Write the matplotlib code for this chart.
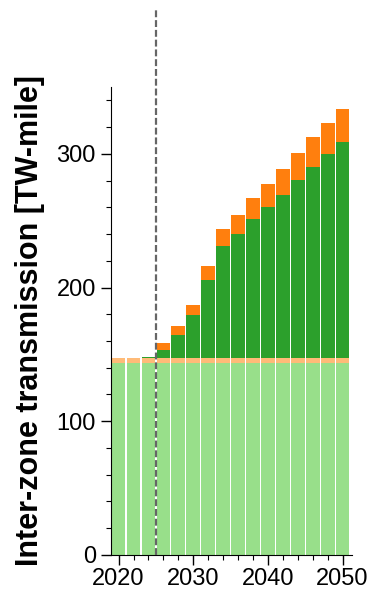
import matplotlib.pyplot as plt
import numpy as np

plt.rcParams['font.family'] = ['Liberation Sans', 'DejaVu Sans']

# 2-year model periods
years = [2020, 2022, 2024, 2026, 2028, 2030, 2032, 2034, 2036,
         2038, 2040, 2042, 2044, 2046, 2048, 2050]

# existing network, split into two parts [TW-mile]
existing_main = [143.4] * 16
existing_extra = [4.2] * 16
# new builds stacked on top
new_main = [0, 0, 0.8, 5.8, 16.8, 31.5, 58.2, 83.6, 92.6,
            103.3, 112.3, 121.8, 132.5, 142.7, 151.9, 160.9]
new_extra = [0, 0, 0, 5.0, 6.5, 7.8, 10.5, 12.7, 14.2,
             16.0, 17.7, 19.2, 20.4, 22.2, 23.5, 24.7]

fig = plt.figure(figsize=(3.78, 5.97), dpi=100)
ax = fig.add_axes([0.294, 0.0704, 0.636, 0.784])

x = np.array(years)
b1 = np.array(existing_main)
b2 = b1 + np.array(existing_extra)
b3 = b2 + np.array(new_main)

# narrow white gaps between the periods, none between stacked layers
bar_kw = dict(width=1.84, edgecolor='none', align='center')
ax.bar(x, existing_main, color='#98df8a', **bar_kw)
ax.bar(x, existing_extra, bottom=b1, color='#ffbb78', **bar_kw)
ax.bar(x, new_main, bottom=b2, color='#2ca02c', **bar_kw)
ax.bar(x, new_extra, bottom=b3, color='#ff7f0e', **bar_kw)

# start of the planning horizon
ax.plot([2025, 2025], [0, 409], ls=(0, (3.1, 1.3)), color='#666666',
        lw=1.6, clip_on=False, zorder=5)

ax.set_xlim(2019, 2051.2)
ax.set_ylim(0, 350)
ax.set_xticks([2020, 2030, 2040, 2050])
ax.set_xticks(np.arange(2020, 2051, 2), minor=True)
ax.set_yticks([0, 100, 200, 300])
ax.set_yticks(np.arange(0, 351, 20), minor=True)
ax.tick_params(axis='both', which='major', labelsize=17, length=7.5, width=1)
ax.tick_params(axis='both', which='minor', length=3.5, width=0.8)
ax.tick_params(axis='x', which='major', pad=2)

ax.spines['top'].set_visible(False)
ax.spines['right'].set_visible(False)
ax.set_ylabel('Inter-zone transmission [TW-mile]', fontsize=22,
              fontweight='bold', labelpad=8)

fig.savefig('out.png', dpi=100)
